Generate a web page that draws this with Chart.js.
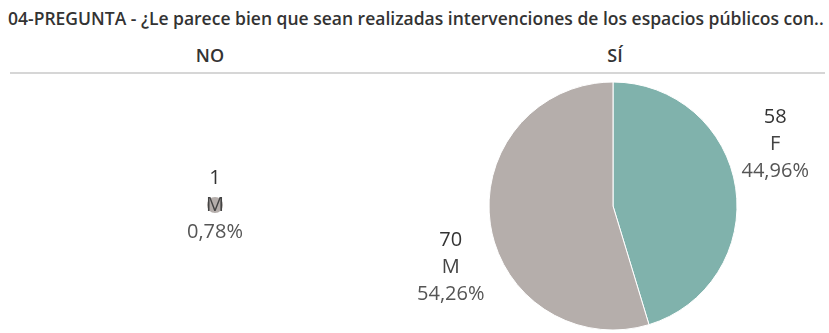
<!DOCTYPE html>
<html lang="es">
<head>
<meta charset="utf-8">
<title>04-PREGUNTA</title>
<script src="https://cdn.jsdelivr.net/npm/chart.js@4/dist/chart.umd.min.js"></script>
<style>
  html, body { margin: 0; padding: 0; background: #fff; }
  body { width: 829px; height: 333px; position: relative; overflow: hidden;
         font-family: "Open Sans", "Noto Sans", sans-serif; color: #333; }
  #title { position: absolute; left: 8px; top: 6px; font-size: 17.5px; font-weight: 600;
           white-space: nowrap; }
  .head { position: absolute; top: 43px; font-size: 18px; font-weight: 600; text-align: center; width: 100px; }
  #rule { position: absolute; left: 10px; right: 4px; top: 72px; height: 2px; background: #d6d6d6; }
  .pane { position: absolute; }
</style>
</head>
<body>
<div id="title">04-PREGUNTA - ¿Le parece bien que sean realizadas intervenciones de los espacios públicos con..</div>
<div class="head" style="left:160px">NO</div>
<div class="head" style="left:565px">SÍ</div>
<div id="rule"></div>
<div class="pane" style="left:0;top:76px;width:430px;height:258px"><canvas id="noChart"></canvas></div>
<div class="pane" style="left:400px;top:76px;width:426px;height:260px"><canvas id="siChart"></canvas></div>

<script>
// answers split by sex
const noLabels = ['M'];
const noCounts = [1];
const siLabels = ['F', 'M'];
const siCounts = [58, 70];
const sexColors = { F: '#80b2ac', M: '#b5aeab' };

const grandTotal = [...noCounts, ...siCounts].reduce((a, b) => a + b, 0);

function pct(v) {
    return (v / grandTotal * 100).toFixed(2).replace('.', ',') + '%';
}

// ── Label plugin: count / sex / percent stacked in three lines ────
const pieLabels = {
    id: 'pieLabels',
    afterDatasetsDraw(chart, args, opts) {
        const ctx = chart.ctx;
        const ds = chart.data.datasets[0];
        chart.getDatasetMeta(0).data.forEach((arc, i) => {
            let x = arc.x, y = arc.y;
            if (opts.outside) {
                const mid = (arc.startAngle + arc.endAngle) / 2;
                x += Math.cos(mid) * (arc.outerRadius + 40);
                y += Math.sin(mid) * (arc.outerRadius + 294);
            }
            const lines = [String(ds.data[i]), chart.data.labels[i], pct(ds.data[i])];
            const colors = ['#333', '#444', '#555'];
            ctx.save();
            ctx.font = '20px "Open Sans", sans-serif';
            ctx.textAlign = 'center';
            ctx.textBaseline = 'middle';
            lines.forEach((t, k) => {
                ctx.fillStyle = colors[k];
                ctx.fillText(t, x, y + (k - 1) * 27);
            });
            ctx.restore();
        });
    }
};

function makePie(id, labels, counts, radius, outside) {
    return new Chart(document.getElementById(id), {
        type: 'pie',
        data: {
            labels: labels,
            datasets: [{
                data: counts,
                backgroundColor: labels.map(l => sexColors[l]),
                borderColor: '#fff',
                borderWidth: labels.length > 1 ? 1 : 0
            }]
        },
        options: {
            responsive: true,
            maintainAspectRatio: false,
            animation: false,
            radius: radius,
            layout: { padding: 0 },
            plugins: {
                legend: { display: false },
                tooltip: { enabled: false },
                pieLabels: { outside: outside }
            }
        },
        plugins: [pieLabels]
    });
}

makePie('noChart', noLabels, noCounts, 8, false);
makePie('siChart', siLabels, siCounts, 124, true);
</script>
</body>
</html>
